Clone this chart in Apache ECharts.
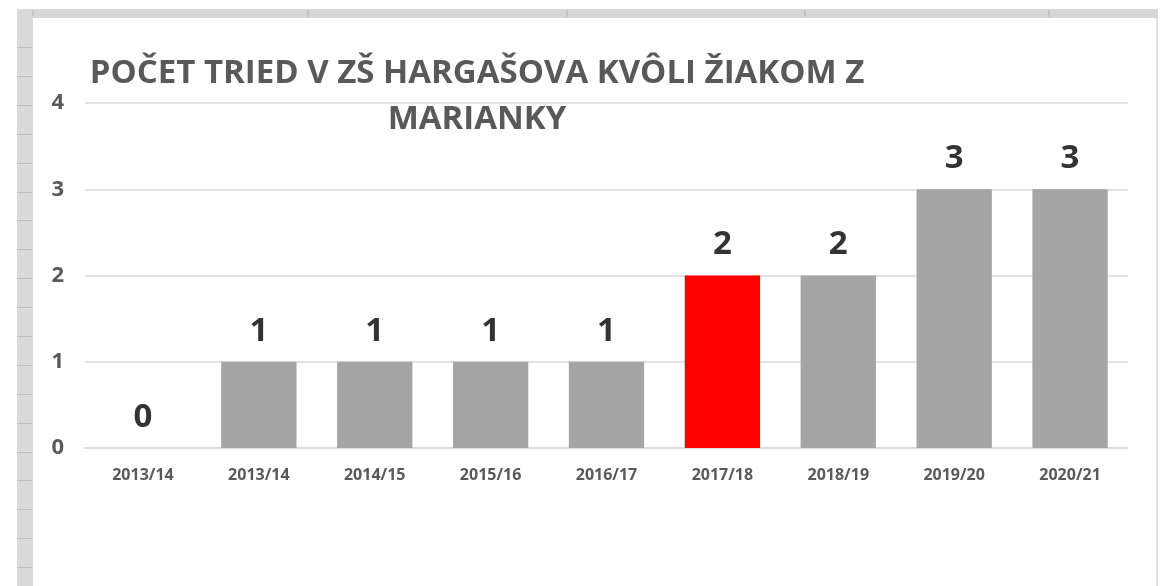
<!DOCTYPE html>
<html>
<head>
<meta charset="utf-8">
<script src="https://cdn.jsdelivr.net/npm/echarts@6/dist/echarts.min.js"></script>
<style>
  html, body { margin: 0; padding: 0; background: #fff; }
  #chart { width: 1167px; height: 586px; }
</style>
</head>
<body>
<div id="chart"></div>
<script>
// data
var titleText = 'POČET TRIED V ZŠ HARGAŠOVA KVÔLI ŽIAKOM Z\nMARIANKY';
var years = ['2013/14', '2013/14', '2014/15', '2015/16', '2016/17', '2017/18', '2018/19', '2019/20', '2020/21'];
var classes = [0, 1, 1, 1, 1, 2, 2, 3, 3];
var yTicks = [0, 1, 2, 3, 4];
var highlightIndex = 5; // 2017/18 drawn in red

var myChart = echarts.init(document.getElementById('chart'));

var font = '"Open Sans", "DejaVu Sans", sans-serif';

// spreadsheet frame around the pasted chart (decoration only)
var frame = [
  { type: 'rect', shape: { x: 17, y: 9, width: 1141, height: 9 }, style: { fill: '#d6d6d6' }, silent: true },
  { type: 'rect', shape: { x: 17, y: 9, width: 16, height: 577 }, style: { fill: '#d9d9d9' }, silent: true },
  { type: 'rect', shape: { x: 1156, y: 18, width: 2, height: 568 }, style: { fill: '#e2e2e2' }, silent: true }
];
[33, 308, 567, 805, 1049].forEach(function (x) {
  frame.push({ type: 'line', shape: { x1: x, y1: 10, x2: x, y2: 17 }, style: { stroke: '#b5b5b5', lineWidth: 1 }, silent: true });
});
for (var y = 47; y < 586; y += 28.9) {
  frame.push({ type: 'line', shape: { x1: 17, y1: Math.round(y) + 0.5, x2: 32, y2: Math.round(y) + 0.5 }, style: { stroke: '#bdbdbd', lineWidth: 1 }, silent: true });
}

var option = {
  backgroundColor: '#ffffff',
  animation: false,
  graphic: frame,
  title: {
    text: titleText,
    left: 472,
    top: 46,
    textAlign: 'center',
    textStyle: {
      fontFamily: font,
      fontWeight: 'bold',
      fontSize: 33,
      lineHeight: 46,
      color: '#595959'
    }
  },
  grid: {
    left: 85,
    right: 39,
    top: 103,
    bottom: 138
  },
  xAxis: {
    type: 'category',
    data: years,
    axisTick: { show: false },
    axisLine: { lineStyle: { color: '#d9d9d9', width: 1.5 } },
    axisLabel: {
      margin: 19,
      fontFamily: font,
      fontWeight: 'bold',
      fontSize: 16,
      color: '#595959'
    }
  },
  yAxis: {
    type: 'value',
    min: yTicks[0],
    max: yTicks[yTicks.length - 1],
    interval: 1,
    axisLine: { show: false },
    axisTick: { show: false },
    splitLine: { lineStyle: { color: '#d9d9d9', width: 1.5 } },
    axisLabel: {
      margin: 21,
      fontFamily: font,
      fontWeight: 'bold',
      fontSize: 22,
      color: '#595959'
    }
  },
  series: [{
    type: 'bar',
    barCategoryGap: '35%',
    data: classes.map(function (v, i) {
      return {
        value: v,
        itemStyle: { color: i === highlightIndex ? '#ff0000' : '#a5a5a5' }
      };
    }),
    label: {
      show: true,
      position: 'top',
      distance: 14,
      fontFamily: font,
      fontWeight: 'bold',
      fontSize: 33,
      color: '#333333'
    }
  }]
};

myChart.setOption(option);
</script>
</body>
</html>
